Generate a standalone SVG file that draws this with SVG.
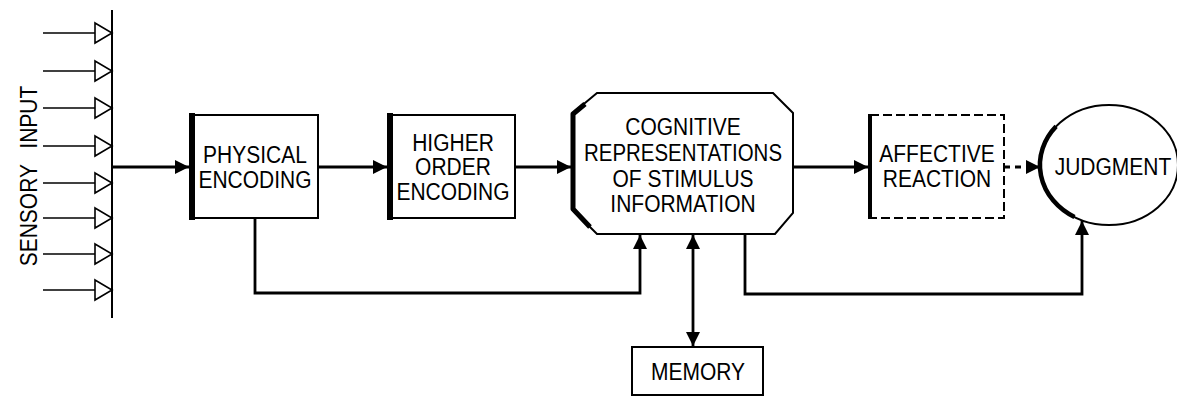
<svg xmlns="http://www.w3.org/2000/svg" width="1177" height="397" viewBox="0 0 1177 397">
<style>
text{font-family:"Liberation Sans",Arial,sans-serif;font-size:21px;fill:#000;text-anchor:middle}
.box{fill:#fff;stroke:#000;stroke-width:2}
.thick{fill:none;stroke:#000;stroke-width:6;stroke-linecap:square}
.con{fill:none;stroke:#000;stroke-width:2.8}
.inp{fill:none;stroke:#000;stroke-width:1.6}
.tri{fill:#fff;stroke:#000;stroke-width:1.6;stroke-linejoin:miter}
</style>
<defs>
<marker id="ah" markerUnits="userSpaceOnUse" markerWidth="16" markerHeight="14" refX="14" refY="7" orient="auto-start-reverse">
<path d="M0,0 L14,7 L0,14 Z" fill="#000"/>
</marker>
</defs>
<g id="sensory-input">
<text transform="translate(37,176) rotate(-90) scale(1,1.12)" word-spacing="10">SENSORY INPUT</text>
<line class="inp" x1="112" y1="10" x2="112" y2="318" style="stroke-width:2"/>
<g>
<line class="inp" x1="43" y1="33" x2="95" y2="33"/><polygon class="tri" points="95,23 112,33 95,43"/>
<line class="inp" x1="43" y1="71" x2="95" y2="71"/><polygon class="tri" points="95,61 112,71 95,81"/>
<line class="inp" x1="43" y1="108" x2="95" y2="108"/><polygon class="tri" points="95,98 112,108 95,118"/>
<line class="inp" x1="43" y1="146" x2="95" y2="146"/><polygon class="tri" points="95,136 112,146 95,156"/>
<line class="inp" x1="43" y1="183" x2="95" y2="183"/><polygon class="tri" points="95,173 112,183 95,193"/>
<line class="inp" x1="43" y1="218" x2="95" y2="218"/><polygon class="tri" points="95,208 112,218 95,228"/>
<line class="inp" x1="43" y1="254" x2="95" y2="254"/><polygon class="tri" points="95,244 112,254 95,264"/>
<line class="inp" x1="43" y1="290" x2="95" y2="290"/><polygon class="tri" points="95,280 112,290 95,300"/>
</g>
</g>
<g id="physical-encoding">
<rect class="box" x="191" y="115" width="127" height="103"/>
<line class="thick" x1="192" y1="116" x2="192" y2="217"/>
<text transform="translate(255,162.5) scale(1,1.12)">PHYSICAL</text>
<text transform="translate(255,187.5) scale(1,1.12)">ENCODING</text>
</g>
<g id="higher-order-encoding">
<rect class="box" x="389" y="115" width="126" height="103"/>
<line class="thick" x1="390" y1="116" x2="390" y2="217"/>
<text transform="translate(453,151) scale(1,1.12)">HIGHER</text>
<text transform="translate(453,175) scale(1,1.12)">ORDER</text>
<text transform="translate(453,200) scale(1,1.12)">ENCODING</text>
</g>
<g id="cognitive-representations">
<polygon class="box" points="597,93 773,93 793,113 793,213 775,234 597,234 573,210 573,113"/>
<polyline fill="none" stroke="#000" stroke-width="5" stroke-linejoin="round" points="585,104 573,114 573,209 590,227"/>
<text transform="translate(683,135) scale(1,1.12)">COGNITIVE</text>
<text transform="translate(683,161) scale(1,1.12)" textLength="198" lengthAdjust="spacingAndGlyphs">REPRESENTATIONS</text>
<text transform="translate(683,187) scale(1,1.12)">OF STIMULUS</text>
<text transform="translate(683,212) scale(1,1.12)">INFORMATION</text>
</g>
<g id="affective-reaction">
<rect x="870" y="115" width="134" height="103" fill="#fff" stroke="#000" stroke-width="2" stroke-dasharray="9,4"/>
<line class="thick" x1="870" y1="116" x2="870" y2="217" style="stroke-width:4"/>
<text transform="translate(937,162) scale(1,1.12)">AFFECTIVE</text>
<text transform="translate(937,187) scale(1,1.12)">REACTION</text>
</g>
<g id="judgment">
<ellipse cx="1109" cy="165" rx="69" ry="60" fill="#fff" stroke="#000" stroke-width="2"/>
<path d="M1056.1,126.4 A69,60 0 0 0 1074.5,217" fill="none" stroke="#000" stroke-width="4.5"/>
<text transform="translate(1113,175) scale(1,1.12)">JUDGMENT</text>
</g>
<g id="memory">
<rect class="box" x="632" y="347" width="131" height="48"/>
<text transform="translate(698,380) scale(1,1.12)">MEMORY</text>
</g>
<g id="connectors">
<line class="con" x1="112" y1="167" x2="189" y2="167" marker-end="url(#ah)"/>
<line class="con" x1="318" y1="167" x2="387" y2="167" marker-end="url(#ah)"/>
<line class="con" x1="515" y1="167" x2="571" y2="167" marker-end="url(#ah)"/>
<line class="con" x1="793" y1="167" x2="868" y2="167" marker-end="url(#ah)"/>
<line class="con" x1="1004" y1="167" x2="1040" y2="167" stroke-dasharray="6,5" marker-end="url(#ah)"/>
<polyline class="con" points="255,218 255,293 640,293 640,235" marker-end="url(#ah)"/>
<polyline class="con" points="745,234 745,294 1082,294 1082,221" marker-end="url(#ah)"/>
<line class="con" x1="693" y1="235" x2="693" y2="346" marker-start="url(#ah)" marker-end="url(#ah)"/>
</g>
</svg>
